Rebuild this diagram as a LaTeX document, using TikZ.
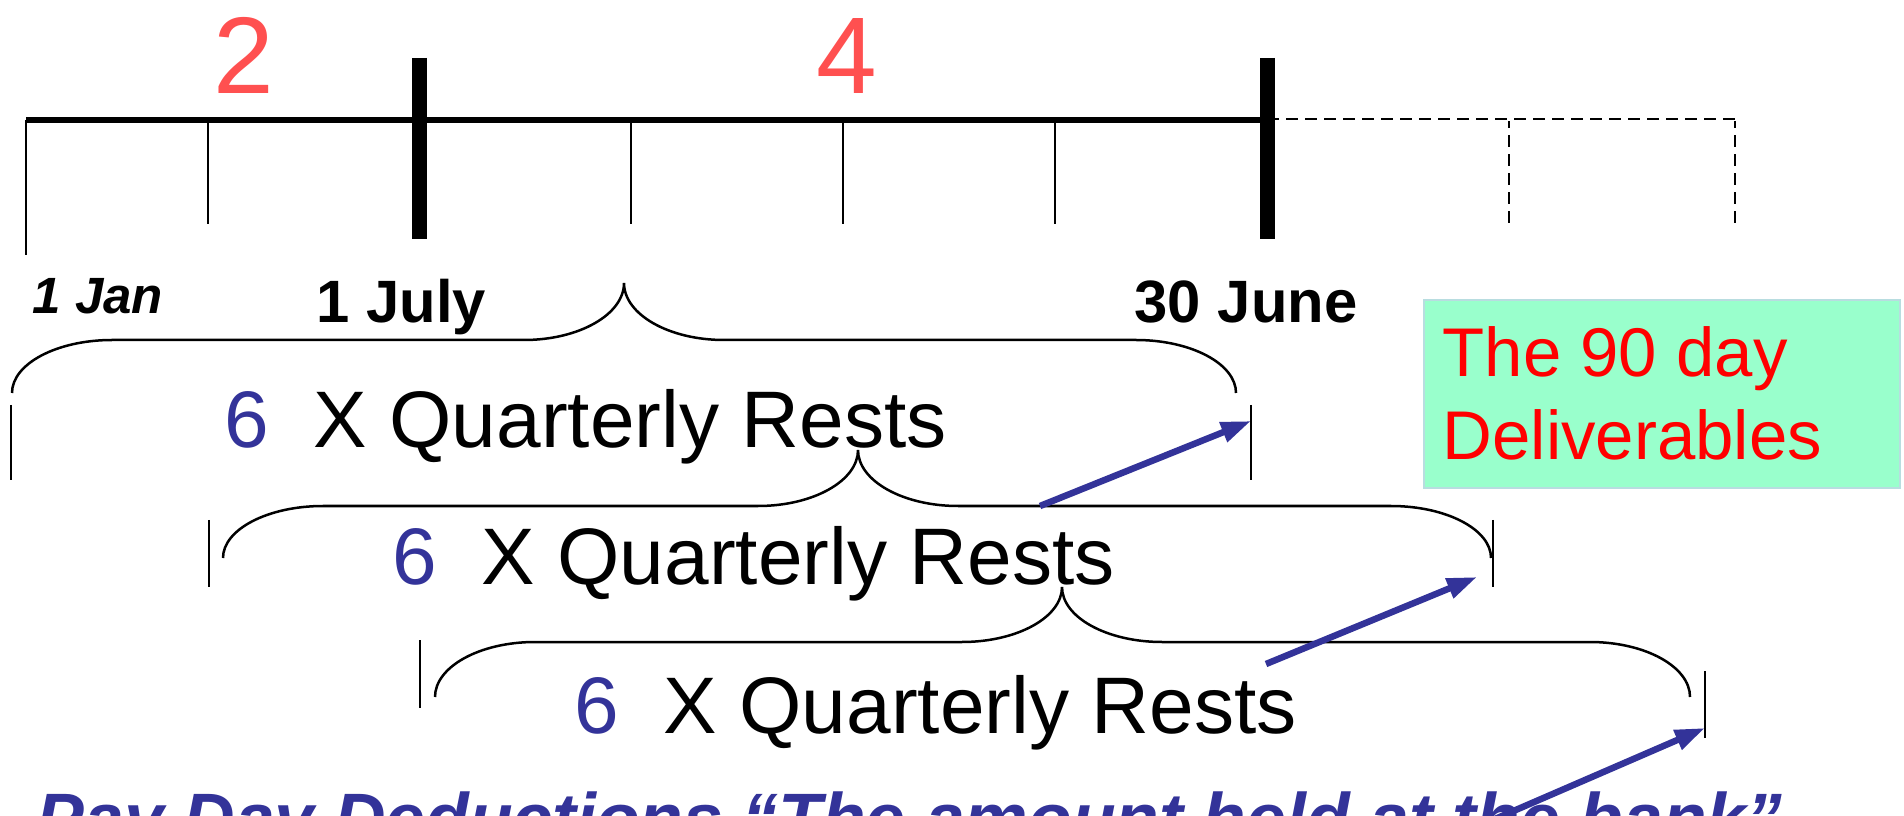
\documentclass[tikz,border=0pt]{standalone}
\usepackage{fontspec}
\setmainfont{Liberation Sans}
\usetikzlibrary{arrows.meta}
\definecolor{tlred}{RGB}{255,80,80}
\definecolor{navy}{RGB}{51,51,153}
\definecolor{mint}{RGB}{153,255,204}
\definecolor{mintedge}{RGB}{184,221,224}

% curly brace opening downwards: left x, tip x, right x, end y, flat y, tip y
\newcommand\qbrace[6]{%
  \draw[brace] (#1,#4) .. controls +(0,{-0.552*(#4-#5)}) and +(-55,0) .. ({#1+100},#5)
    -- ({#2-100},#5) .. controls +(55,0) and +(0,{0.552*(#5-#6)}) .. (#2,#6)
    .. controls +(0,{0.552*(#5-#6)}) and +(-55,0) .. ({#2+100},#5)
    -- ({#3-100},#5) .. controls +(55,0) and +(0,{-0.552*(#4-#5)}) .. (#3,#4);}

\begin{document}
\begin{tikzpicture}[x=0.01cm,y=-0.01cm,
  axis/.style={line width=0.06cm},
  major/.style={line width=0.15cm},
  minor/.style={line width=0.025cm},
  future/.style={line width=0.02cm, dash pattern=on 0.12cm off 0.07cm},
  brace/.style={line width=0.025cm},
  endbar/.style={line width=0.02cm},
  pointer/.style={draw=navy, line width=0.065cm, -{Triangle[length=0.3cm,width=0.2cm]}},
  count/.style={text=tlred, font=\fontsize{31}{36}\selectfont, inner sep=0, anchor=base},
  date/.style={font=\bfseries\fontsize{17}{20}\selectfont, inner sep=0, anchor=base west},
  rest/.style={font=\fontsize{22.8}{27}\selectfont, inner sep=0, anchor=base west},
  deliv/.style={text=red, font=\fontsize{19.6}{23}\selectfont, inner sep=0, anchor=base west},
]
\useasboundingbox (0,0) rectangle (1904,816);

% timeline axis
\draw[axis] (26,120) -- (1267,120);
\draw[future] (1267,119) -- (1735,119);
\draw[future] (1509,223) -- (1509,121);
\draw[future] (1735,223) -- (1735,121);
\draw[minor] (26,120) -- (26,255);
\foreach \tx in {208,631,843,1055} \draw[minor] (\tx,120) -- (\tx,224);
\draw[major] (419,58) -- (419,239);
\draw[major] (1267,58) -- (1267,239);

% year counts
\node[count] (yr2) at (244,94) {2};
\node[count] (yr4) at (847,94) {4};

% dates
\node[date, font=\bfseries\itshape\fontsize{14.5}{17}\selectfont] (jan) at (32,314) {1 Jan};
\node[date] (july) at (316,323) {1 July};
\node[date] (june) at (1134,323) {30 June};

% deliverables box
\draw[mintedge, fill=mint, line width=0.02cm] (1424,300) rectangle (1900,488);
\node[deliv] (del1) at (1442,377) {The 90 day};
\node[deliv] (del2) at (1442,460) {Deliverables};

% braces
\qbrace{12}{624}{1236}{393}{340}{283}
\qbrace{223}{858}{1491}{558}{506}{450}
\qbrace{435}{1062}{1690}{697}{642}{587}

% end bars of each period
\draw[endbar] (11,405) -- (11,480);
\draw[endbar] (1251,405) -- (1251,480);
\draw[endbar] (209,520) -- (209,587);
\draw[endbar] (1493,520) -- (1493,587);
\draw[endbar] (420,640) -- (420,708);
\draw[endbar] (1705,671) -- (1705,738);
\coordinate (end1) at (1251,421);
\coordinate (end2) at (1477,577);
\coordinate (end3) at (1705,728);

% period labels
\node[rest] (rest1) at (224,448) {\textcolor{navy}{6}\ \ X Quarterly Rests};
\node[rest] (rest2) at (392,584) {\textcolor{navy}{6}\ \ X Quarterly Rests};
\node[rest] (rest3) at (574,733) {\textcolor{navy}{6}\ \ X Quarterly Rests};

% bottom caption
\node[anchor=base west, inner sep=0, text=navy, font=\bfseries\itshape\fontsize{20.3}{24}\selectfont]
  (caption) at (36,843) {Pay Day Deductions “The amount held at the bank”};

% pointers
\coordinate (from1) at (1040,506);
\coordinate (from2) at (1266,664);
\coordinate (from3) at (1488,822);
\draw[pointer] (from1) -- (end1);
\draw[pointer] (from2) -- (end2);
\draw[pointer] (from3) -- (end3);
\end{tikzpicture}
\end{document}
